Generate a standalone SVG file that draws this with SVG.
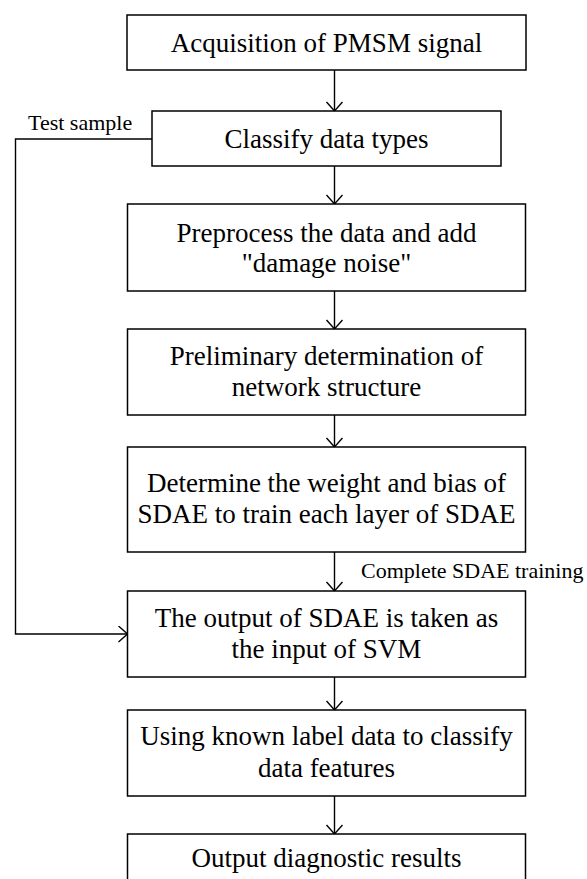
<svg xmlns="http://www.w3.org/2000/svg" width="587" height="879" viewBox="0 0 587 879">
<defs>
<style>
.box{fill:#fff;stroke:#000;stroke-width:1.5}
.t{font-family:"Liberation Serif","Times New Roman",serif;font-size:27px;fill:#000;text-anchor:middle}
.lbl{font-family:"Liberation Serif","Times New Roman",serif;font-size:22px;fill:#000}
.c{fill:none;stroke:#000;stroke-width:1.4}
</style>
<marker id="ah" markerUnits="userSpaceOnUse" markerWidth="20" markerHeight="20" viewBox="0 0 20 20" refX="10" refY="8" orient="auto">
<path d="M1,0 L10,8 L1,16" fill="none" stroke="#000" stroke-width="1.4"/>
</marker>
</defs>
<rect width="587" height="879" fill="#fff"/>
<g id="connectors">
<line class="c" x1="334.5" y1="70" x2="334.5" y2="111" marker-end="url(#ah)"/>
<line class="c" x1="334.5" y1="166" x2="334.5" y2="204" marker-end="url(#ah)"/>
<line class="c" x1="334.5" y1="291" x2="334.5" y2="329" marker-end="url(#ah)"/>
<line class="c" x1="334.5" y1="415" x2="334.5" y2="447" marker-end="url(#ah)"/>
<line class="c" x1="334.5" y1="552" x2="334.5" y2="591" marker-end="url(#ah)"/>
<line class="c" x1="334.5" y1="677" x2="334.5" y2="710" marker-end="url(#ah)"/>
<line class="c" x1="334.5" y1="796" x2="334.5" y2="834" marker-end="url(#ah)"/>
<polyline class="c" points="152,139 15.5,139 15.5,634 127.5,634" marker-end="url(#ah)"/>
<text class="lbl" x="28" y="130">Test sample</text>
<text class="lbl" x="361" y="578">Complete SDAE training</text>
</g>
<g id="n1"><rect class="box" x="127" y="15" width="399" height="55"/><text class="t" x="326.5" y="52">Acquisition of PMSM signal</text></g>
<g id="n2"><rect class="box" x="152" y="111" width="349" height="55"/><text class="t" x="326.5" y="148">Classify data types</text></g>
<g id="n3"><rect class="box" x="127.5" y="204" width="398" height="87"/><text class="t" x="326.5" y="241.5">Preprocess the data and add</text><text class="t" x="326.5" y="272">"damage noise"</text></g>
<g id="n4"><rect class="box" x="127.5" y="329" width="398" height="86"/><text class="t" x="326.5" y="365">Preliminary determination of</text><text class="t" x="326.5" y="396">network structure</text></g>
<g id="n5"><rect class="box" x="127.5" y="447" width="398" height="105"/><text class="t" x="326.5" y="492">Determine the weight and bias of</text><text class="t" x="326.5" y="523">SDAE to train each layer of SDAE</text></g>
<g id="n6"><rect class="box" x="127.5" y="591" width="398" height="86"/><text class="t" x="326.5" y="627">The output of SDAE is taken as</text><text class="t" x="326.5" y="658">the input of SVM</text></g>
<g id="n7"><rect class="box" x="127.5" y="710" width="398" height="86"/><text class="t" x="326.5" y="745">Using known label data to classify</text><text class="t" x="326.5" y="777">data features</text></g>
<g id="n8"><rect class="box" x="127.5" y="834" width="398" height="60"/><text class="t" x="326.5" y="867">Output diagnostic results</text></g>
</svg>
